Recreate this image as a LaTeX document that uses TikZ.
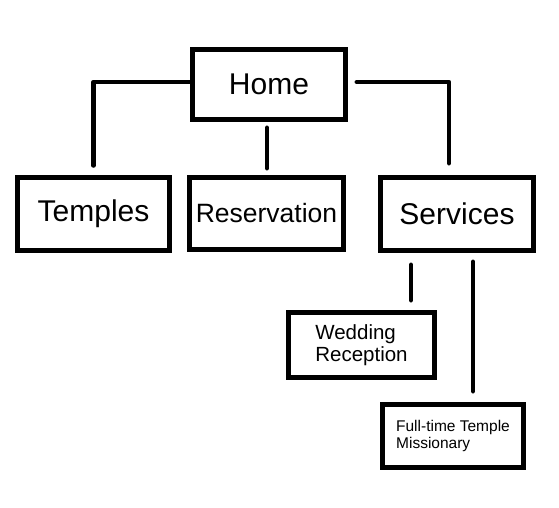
\documentclass[tikz,border=0pt]{standalone}
\usepackage{fontspec}
\setmainfont{Liberation Sans}

\begin{document}
\begin{tikzpicture}[x=1pt,y=-1pt,
        box/.style={draw,line width=5pt,inner sep=0pt},
        link/.style={line width=4.5pt,line cap=round,line join=round}]
        \useasboundingbox (0,0) rectangle (559,508);
        % top level
        \node[box,minimum width=153pt,minimum height=70pt,font=\fontsize{30}{36}\selectfont] (home) at (269,84.5) {Home};
        % second level
        \node[box,minimum width=152pt,minimum height=73pt,font=\fontsize{30}{36}\selectfont] (temples) at (93.5,214) {Temples};
        \node[box,minimum width=154pt,minimum height=72pt,font=\fontsize{26.5}{32}\selectfont] (reservation) at (266.5,213.5) {Reservation};
        \node[box,minimum width=153pt,minimum height=73pt,font=\fontsize{30}{36}\selectfont] (services) at (457,214) {Services};
        % under services
        \node[box,minimum width=146pt,minimum height=65pt,align=left,font=\fontsize{20.5}{22.5}\selectfont] (wedding) at (361.5,345) {Wedding\\Reception};
        \node[box,minimum width=141pt,minimum height=63pt,align=left,font=\fontsize{15.5}{17.5}\selectfont] (missionary) at (453,436) {Full-time Temple\\Missionary};
        \coordinate (wedtap) at ([xshift=-46pt]services.south);
        \coordinate (misstap) at ([xshift=16pt]services.south);
        % connectors
        \draw[link,shorten >=9.5pt] ([yshift=2.5pt]home.west) -| (temples.north);
        \draw[link,shorten <=5.75pt,shorten >=6.75pt] ([xshift=-2pt]home.south) -- ([xshift=-2pt]home.south |- reservation.north);
        \draw[link,shorten <=8.75pt,shorten >=11.75pt] ([yshift=2.5pt]home.east) -| ([xshift=-8pt]services.north);
        \draw[link,shorten <=11.75pt,shorten >=9.75pt] (wedtap) -- (wedtap |- wedding.north);
        \draw[link,shorten <=8.75pt,shorten >=10.75pt] (misstap) -- (misstap |- missionary.north);
    \end{tikzpicture}
\end{document}
